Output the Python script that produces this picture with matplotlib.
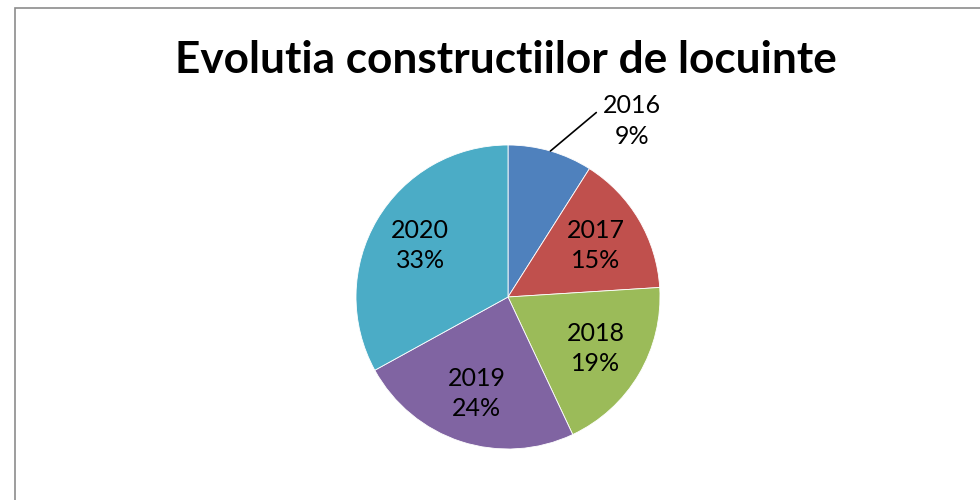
import matplotlib
matplotlib.use("Agg")
import matplotlib.pyplot as plt
from matplotlib.patches import Rectangle
import numpy as np

title = "Evolutia constructiilor de locuinte"
years = ["2016", "2017", "2018", "2019", "2020"]
shares = [9, 15, 19, 24, 33]
colors = ["#4F81BD", "#C0504D", "#9BBB59", "#8064A2", "#4BACC6"]

W, H = 980, 500
fig = plt.figure(figsize=(W / 100, H / 100), dpi=100)
fig.patch.set_facecolor("white")
ax = fig.add_axes([0, 0, 1, 1])

cx, cy, R = 508, H - 297, 152
wedges, _ = ax.pie(shares, colors=colors, startangle=90, counterclock=False,
                   center=(cx, cy), radius=R, frame=True,
                   wedgeprops=dict(edgecolor="white", linewidth=0.6))
ax.set_xlim(0, W)
ax.set_ylim(0, H)
ax.set_aspect("auto")
ax.axis("off")

# border of chart area
ax.add_patch(Rectangle((15, -10), W + 20, H - 8 + 10, fill=False,
                       edgecolor="#8c8c8c", linewidth=1.2, clip_on=True))

font = "Lato"
fs = 18
ls = 1.38
for w, yr, s in zip(wedges, years, shares):
    mid = np.deg2rad((w.theta1 + w.theta2) / 2)
    label = f"{yr}\n{s}%"
    if yr == "2016":
        ex, ey = cx + R * np.cos(mid), cy + R * np.sin(mid)
        ax.annotate(label, xy=(ex, ey), xytext=(82, 30), textcoords="offset pixels",
                    ha="center", va="center", fontsize=fs, family=font,
                    linespacing=ls, color="black",
                    arrowprops=dict(arrowstyle="-", color="black", lw=1.2,
                                    shrinkA=4, shrinkB=0, relpos=(0, 0.75),
                                    connectionstyle="angle,angleA=0,angleB=40,rad=0"))
    else:
        r = 0.67 * R
        ax.text(cx + r * np.cos(mid), cy + r * np.sin(mid), label,
                ha="center", va="center", fontsize=fs, family=font,
                linespacing=ls, color="black")

t = fig.text(506 / W, 1 - 60 / H, title, ha="center", va="center",
             fontsize=34, fontweight="bold", family=font, color="black")
fig.canvas.draw()
bb = t.get_window_extent()
t.set_fontsize(34 * 663 / bb.width)

fig.savefig("out.png", dpi=100, facecolor="white")
